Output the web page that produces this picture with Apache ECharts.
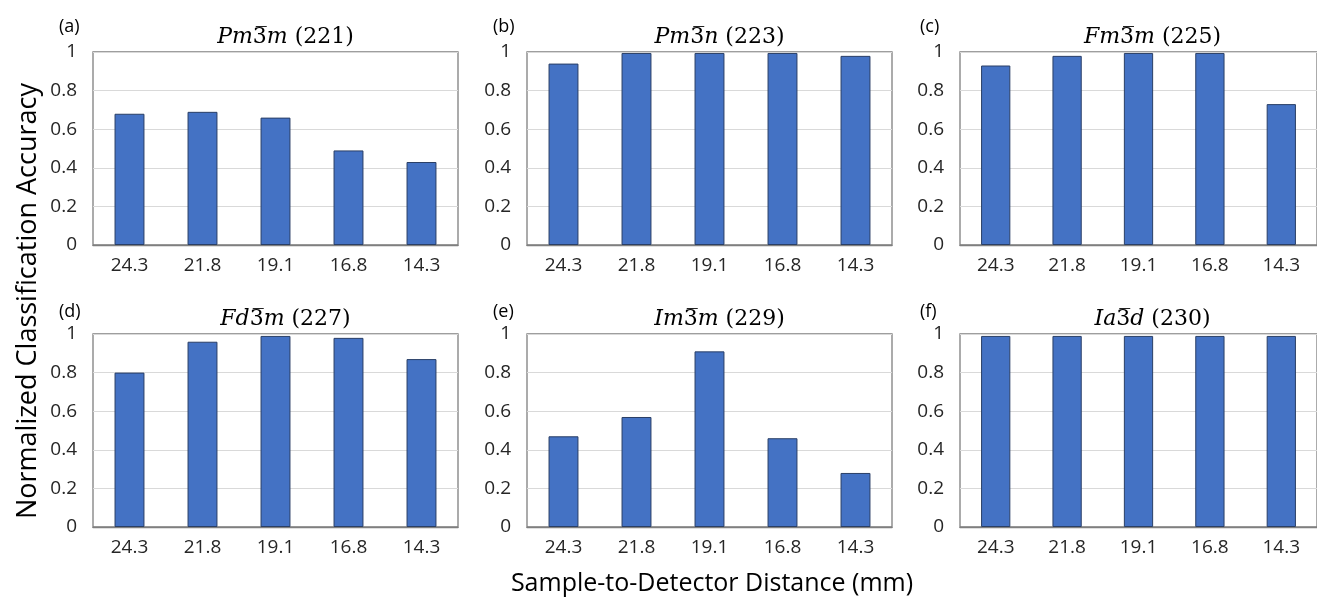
<!DOCTYPE html>
<html>
<head>
<meta charset="utf-8">
<script src="https://cdn.jsdelivr.net/npm/echarts@6/dist/echarts.min.js"></script>
<style>
  html, body { margin: 0; padding: 0; background: #ffffff; }
  #chart { width: 1317px; height: 601px; }
</style>
</head>
<body>
<div id="chart"></div>
<script>
// Sample-to-detector distances (mm), shared category axis of every panel
const distances = ['24.3', '21.8', '19.1', '16.8', '14.3'];
const yTicks = [0, 0.2, 0.4, 0.6, 0.8, 1];

// Normalized classification accuracy per space group
const accPm3m = [0.68, 0.69, 0.66, 0.49, 0.43];      // 221
const accPm3n = [0.94, 0.995, 0.995, 0.995, 0.98];  // 223
const accFm3m = [0.93, 0.98, 0.995, 0.995, 0.73];   // 225
const accFd3m = [0.80, 0.96, 0.99, 0.98, 0.87];     // 227
const accIm3m = [0.47, 0.57, 0.91, 0.46, 0.28];     // 229
const accIa3d = [0.99, 0.99, 0.99, 0.99, 0.99];     // 230

// Panel tags and space-group symbols (italic letters, barred 3, number)
const panelTags = ['(a)', '(b)', '(c)', '(d)', '(e)', '(f)'];
const groupSymbols = [
  ['Pm', 'm', '221'],
  ['Pm', 'n', '223'],
  ['Fm', 'm', '225'],
  ['Fd', 'm', '227'],
  ['Im', 'm', '229'],
  ['Ia', 'd', '230']
];
const panelValues = [accPm3m, accPm3n, accFm3m, accFd3m, accIm3m, accIa3d];

const colLeft = [93, 527, 960];
const rowTop = [52, 334];
const plotW = 365, plotH = 193;
const SANS = '"Open Sans", "Liberation Sans", sans-serif';
const SERIF = '"DejaVu Serif", "Liberation Serif", serif';

const grids = [], xAxes = [], yAxes = [], series = [], titles = [];
panelValues.forEach((vals, i) => {
  const col = i % 3, row = Math.floor(i / 3);
  const left = colLeft[col], top = rowTop[row];
  grids.push({
    left: left, top: top, width: plotW, height: plotH,
    show: true, borderColor: '#7f7f7f', borderWidth: 1.3, backgroundColor: '#ffffff'
  });
  xAxes.push({
    type: 'category', gridIndex: i, data: distances,
    axisLine: { show: true, lineStyle: { color: '#7f7f7f', width: 1.3 } },
    axisTick: { show: false },
    axisLabel: { color: '#262626', fontFamily: SANS, fontSize: 19, margin: 11 }
  });
  yAxes.push({
    type: 'value', gridIndex: i, min: yTicks[0], max: yTicks[yTicks.length - 1], interval: 0.2,
    axisLine: { show: false }, axisTick: { show: false },
    splitLine: { show: true, lineStyle: { color: '#d9d9d9', width: 1 } },
    axisLabel: { color: '#262626', fontFamily: SANS, fontSize: 19, margin: 16,
      formatter: v => String(Math.round(v * 10) / 10) }
  });
  series.push({
    type: 'bar', xAxisIndex: i, yAxisIndex: i, data: vals,
    barWidth: '41%',
    itemStyle: { color: '#4472c4', borderColor: '#2a3f66', borderWidth: 1 }
  });
  const s = groupSymbols[i];
  titles.push({
    text: '{it|' + s[0] + '}{rm|3\u0305}{it|' + s[1] + '}{rm| (' + s[2] + ')}',
    left: left + plotW / 2 + 5, top: top - 31, textAlign: 'center',
    textStyle: {
      fontWeight: 'normal',
      rich: {
        it: { fontFamily: SERIF, fontStyle: 'italic', fontWeight: 'normal', fontSize: 22, color: '#000000' },
        rm: { fontFamily: SERIF, fontWeight: 'normal', fontSize: 22, color: '#000000' }
      }
    }
  });
  titles.push({
    text: panelTags[i],
    left: left - 39 - (col === 2 ? 6 : 0), top: top - 39 + row * 3,
    textStyle: { fontFamily: SANS, fontSize: 18, fontWeight: 'normal', color: '#000000' }
  });
});

const chart = echarts.init(document.getElementById('chart'), null, { renderer: 'canvas' });
chart.setOption({
  animation: false,
  backgroundColor: '#ffffff',
  title: titles,
  grid: grids,
  xAxis: xAxes,
  yAxis: yAxes,
  series: series,
  graphic: [
    {
      type: 'text', x: 28, y: 301, rotation: Math.PI / 2,
      style: {
        text: 'Normalized Classification Accuracy',
        fontFamily: SANS, fontSize: 27, fill: '#000000',
        align: 'center', verticalAlign: 'middle'
      }
    },
    {
      type: 'text', x: 712, y: 584,
      style: {
        text: 'Sample-to-Detector Distance (mm)',
        fontFamily: SANS, fontSize: 25, fill: '#000000',
        align: 'center', verticalAlign: 'middle'
      }
    }
  ]
});
</script>
</body>
</html>
